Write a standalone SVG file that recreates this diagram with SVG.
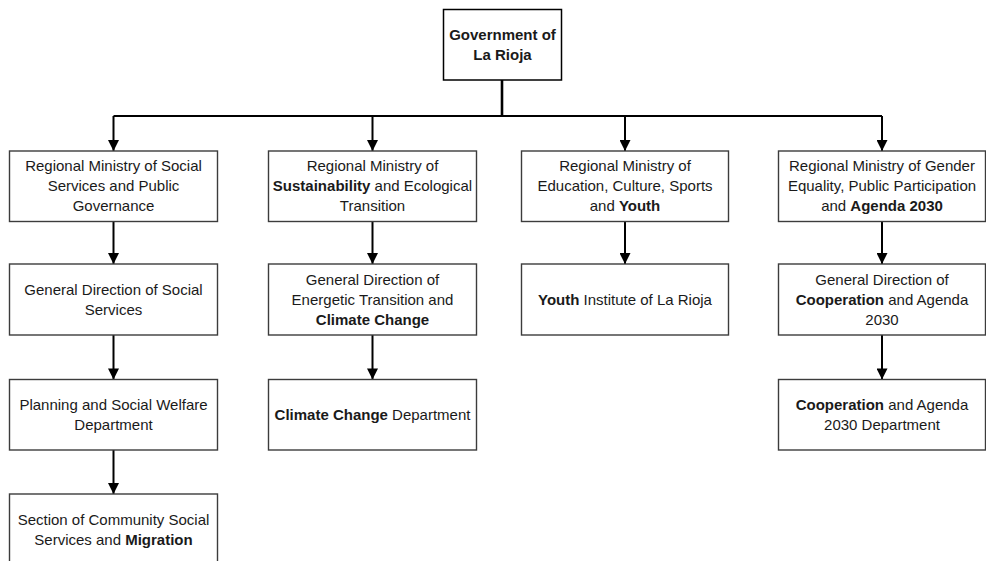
<svg xmlns="http://www.w3.org/2000/svg" width="986" height="561" viewBox="0 0 986 561">
<style>
.box{fill:#fff;stroke:#3c3c3c;stroke-width:1.4}
.top{fill:#fff;stroke:#000;stroke-width:1.5}
text{font-family:"Liberation Sans",Arial,sans-serif;font-size:15px;fill:#1a1a1a;text-anchor:middle}
.b{font-weight:bold}
.c{fill:none;stroke:#000;stroke-width:2}
</style>
<defs>
<marker id="ah" viewBox="0 0 12 12" refX="12" refY="6" markerWidth="12" markerHeight="11" markerUnits="userSpaceOnUse" orient="auto">
<path d="M0,0 L12,6 L0,12 z" fill="#000"/>
</marker>
</defs>
<rect width="986" height="561" fill="#fff"/>
<g id="connectors">
<path class="c" d="M502,80 V116" style="stroke-width:2.6"/>
<path class="c" d="M113.5,116 H882"/>
<path class="c" d="M113.5,116 V151" marker-end="url(#ah)"/>
<path class="c" d="M372.5,116 V151" marker-end="url(#ah)"/>
<path class="c" d="M625,116 V151" marker-end="url(#ah)"/>
<path class="c" d="M882,116 V151" marker-end="url(#ah)"/>
<path class="c" d="M113.5,221.5 V264" marker-end="url(#ah)"/>
<path class="c" d="M113.5,335 V379.5" marker-end="url(#ah)"/>
<path class="c" d="M113.5,450 V494" marker-end="url(#ah)"/>
<path class="c" d="M372.5,221.5 V264" marker-end="url(#ah)"/>
<path class="c" d="M372.5,335 V379.5" marker-end="url(#ah)"/>
<path class="c" d="M625,221.5 V264" marker-end="url(#ah)"/>
<path class="c" d="M882,221.5 V264" marker-end="url(#ah)"/>
<path class="c" d="M882,335 V379.5" marker-end="url(#ah)"/>
</g>
<g id="gov">
<rect class="top" x="443.5" y="9.5" width="118" height="70.5"/>
<text class="b" x="502.5" y="39.5">Government of</text>
<text class="b" x="502.5" y="60">La Rioja</text>
</g>
<g id="m-social">
<rect class="box" x="9.5" y="151" width="208" height="70.5"/>
<text x="113.5" y="171">Regional Ministry of Social</text>
<text x="113.5" y="191">Services and Public</text>
<text x="113.5" y="211">Governance</text>
</g>
<g id="m-sust">
<rect class="box" x="268.5" y="151" width="208" height="70.5"/>
<text x="372.5" y="171">Regional Ministry of</text>
<text x="372.5" y="191"><tspan class="b">Sustainability</tspan> and Ecological</text>
<text x="372.5" y="211">Transition</text>
</g>
<g id="m-edu">
<rect class="box" x="521.5" y="151" width="207" height="70.5"/>
<text x="625" y="171">Regional Ministry of</text>
<text x="625" y="191">Education, Culture, Sports</text>
<text x="625" y="211">and <tspan class="b">Youth</tspan></text>
</g>
<g id="m-gender">
<rect class="box" x="778.5" y="151" width="207" height="70.5"/>
<text x="882" y="171">Regional Ministry of Gender</text>
<text x="882" y="191">Equality, Public Participation</text>
<text x="882" y="211">and <tspan class="b">Agenda 2030</tspan></text>
</g>
<g id="gd-social">
<rect class="box" x="9.5" y="264" width="208" height="71"/>
<text x="113.5" y="295">General Direction of Social</text>
<text x="113.5" y="315">Services</text>
</g>
<g id="gd-energy">
<rect class="box" x="268.5" y="264" width="208" height="71"/>
<text x="372.5" y="285">General Direction of</text>
<text x="372.5" y="305">Energetic Transition and</text>
<text x="372.5" y="325" class="b">Climate Change</text>
</g>
<g id="youth-inst">
<rect class="box" x="521.5" y="264" width="207" height="71"/>
<text x="625" y="305"><tspan class="b">Youth</tspan> Institute of La Rioja</text>
</g>
<g id="gd-coop">
<rect class="box" x="778.5" y="264" width="207" height="71"/>
<text x="882" y="285">General Direction of</text>
<text x="882" y="305"><tspan class="b">Cooperation</tspan> and Agenda</text>
<text x="882" y="325">2030</text>
</g>
<g id="planning">
<rect class="box" x="9.5" y="379.5" width="208" height="70.5"/>
<text x="113.5" y="409.5">Planning and Social Welfare</text>
<text x="113.5" y="429.5">Department</text>
</g>
<g id="climate-dept">
<rect class="box" x="268.5" y="379.5" width="208" height="70.5"/>
<text x="372.5" y="419.5"><tspan class="b">Climate Change</tspan> Department</text>
</g>
<g id="coop-dept">
<rect class="box" x="778.5" y="379.5" width="207" height="70.5"/>
<text x="882" y="409.5"><tspan class="b">Cooperation</tspan> and Agenda</text>
<text x="882" y="429.5">2030 Department</text>
</g>
<g id="section">
<rect class="box" x="9.5" y="494" width="208" height="75"/>
<text x="113.5" y="524.5">Section of Community Social</text>
<text x="113.5" y="544.5">Services and <tspan class="b">Migration</tspan></text>
</g>
</svg>
